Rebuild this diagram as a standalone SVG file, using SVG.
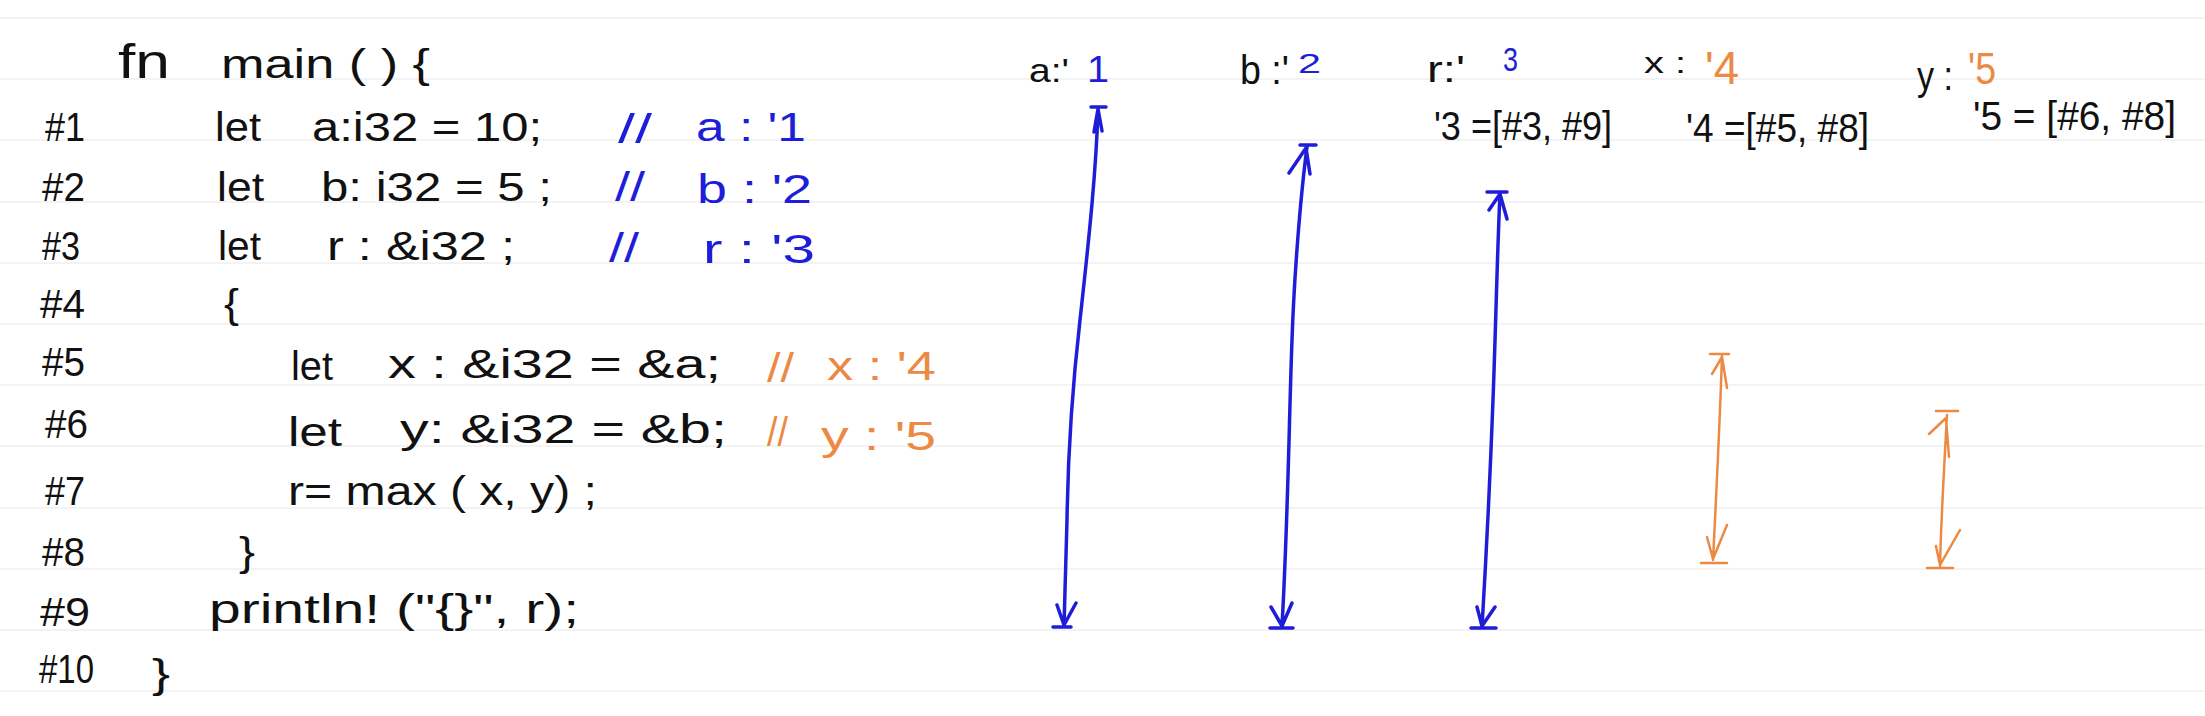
<svg xmlns="http://www.w3.org/2000/svg" width="2205" height="716" viewBox="0 0 2205 716">
<style>
text{font-family:"Liberation Sans","DejaVu Sans",sans-serif;font-size:40px;fill:#111;}
.b{fill:#1e1ed8;}
.o{fill:#ec8a45;}
.rule{stroke:#efefef;stroke-width:1.5;}
.ab{fill:none;stroke:#1e1ed8;stroke-width:3.5;stroke-linecap:round;stroke-linejoin:round;}
.ao{fill:none;stroke:#ec8a45;stroke-width:2.5;stroke-linecap:round;stroke-linejoin:round;}
</style>
<rect width="2205" height="716" fill="#ffffff"/>
<g id="rules">
<line class="rule" x1="0" y1="18" x2="2205" y2="18"/>
<line class="rule" x1="0" y1="79" x2="2205" y2="79"/>
<line class="rule" x1="0" y1="140" x2="2205" y2="140"/>
<line class="rule" x1="0" y1="202" x2="2205" y2="202"/>
<line class="rule" x1="0" y1="263" x2="2205" y2="263"/>
<line class="rule" x1="0" y1="324" x2="2205" y2="324"/>
<line class="rule" x1="0" y1="385" x2="2205" y2="385"/>
<line class="rule" x1="0" y1="446" x2="2205" y2="446"/>
<line class="rule" x1="0" y1="508" x2="2205" y2="508"/>
<line class="rule" x1="0" y1="569" x2="2205" y2="569"/>
<line class="rule" x1="0" y1="630" x2="2205" y2="630"/>
<line class="rule" x1="0" y1="691" x2="2205" y2="691"/>
</g>
<g id="line-fn">
<text x="118" y="78" textLength="52" lengthAdjust="spacingAndGlyphs" style="font-size:48px">fn</text>
<text x="221" y="78" textLength="209" lengthAdjust="spacingAndGlyphs">main ( ) {</text>
</g>
<g id="line-1">
<text x="45" y="141" textLength="40" lengthAdjust="spacingAndGlyphs">#1</text>
<text x="215" y="141" textLength="46" lengthAdjust="spacingAndGlyphs">let</text>
<text x="312" y="141" textLength="230" lengthAdjust="spacingAndGlyphs">a:i32 = 10;</text>
<text class="b" x="618" y="143" textLength="34" lengthAdjust="spacingAndGlyphs">//</text>
<text class="b" x="696" y="141" textLength="110" lengthAdjust="spacingAndGlyphs">a : '1</text>
</g>
<g id="line-2">
<text x="42" y="201" textLength="43" lengthAdjust="spacingAndGlyphs">#2</text>
<text x="217" y="201" textLength="47" lengthAdjust="spacingAndGlyphs">let</text>
<text x="321" y="201" textLength="231" lengthAdjust="spacingAndGlyphs">b: i32 = 5 ;</text>
<text class="b" x="615" y="201" textLength="30" lengthAdjust="spacingAndGlyphs">//</text>
<text class="b" x="697" y="203" textLength="115" lengthAdjust="spacingAndGlyphs">b : '2</text>
</g>
<g id="line-3">
<text x="42" y="260" textLength="38" lengthAdjust="spacingAndGlyphs">#3</text>
<text x="218" y="260" textLength="43" lengthAdjust="spacingAndGlyphs">let</text>
<text x="327" y="260" textLength="188" lengthAdjust="spacingAndGlyphs">r : &amp;i32 ;</text>
<text class="b" x="609" y="262" textLength="30" lengthAdjust="spacingAndGlyphs">//</text>
<text class="b" x="703" y="263" textLength="112" lengthAdjust="spacingAndGlyphs">r : '3</text>
</g>
<g id="line-4">
<text x="40" y="318" textLength="45" lengthAdjust="spacingAndGlyphs">#4</text>
<text x="224" y="318" textLength="15" lengthAdjust="spacingAndGlyphs">{</text>
</g>
<g id="line-5">
<text x="42" y="376" textLength="43" lengthAdjust="spacingAndGlyphs">#5</text>
<text x="291" y="380" textLength="42" lengthAdjust="spacingAndGlyphs">let</text>
<text x="388" y="378" textLength="333" lengthAdjust="spacingAndGlyphs">x : &amp;i32 = &amp;a;</text>
<text class="o" x="767" y="382" textLength="27" lengthAdjust="spacingAndGlyphs">//</text>
<text class="o" x="827" y="380" textLength="109" lengthAdjust="spacingAndGlyphs">x : '4</text>
</g>
<g id="line-6">
<text x="45" y="438" textLength="43" lengthAdjust="spacingAndGlyphs">#6</text>
<text x="288" y="446" textLength="54" lengthAdjust="spacingAndGlyphs">let</text>
<text x="400" y="443" textLength="327" lengthAdjust="spacingAndGlyphs">y: &amp;i32 = &amp;b;</text>
<text class="o" x="767" y="446" textLength="21" lengthAdjust="spacingAndGlyphs">//</text>
<text class="o" x="821" y="450" textLength="115" lengthAdjust="spacingAndGlyphs">y : '5</text>
</g>
<g id="line-7">
<text x="45" y="505" textLength="40" lengthAdjust="spacingAndGlyphs">#7</text>
<text x="288" y="505" textLength="309" lengthAdjust="spacingAndGlyphs">r= max ( x, y) ;</text>
</g>
<g id="line-8">
<text x="42" y="566" textLength="43" lengthAdjust="spacingAndGlyphs">#8</text>
<text x="239" y="566" textLength="16" lengthAdjust="spacingAndGlyphs">}</text>
</g>
<g id="line-9">
<text x="40" y="626" textLength="50" lengthAdjust="spacingAndGlyphs">#9</text>
<text x="209" y="623" textLength="370" lengthAdjust="spacingAndGlyphs">println! ("{}", r);</text>
</g>
<g id="line-10">
<text x="39" y="683" textLength="55" lengthAdjust="spacingAndGlyphs">#10</text>
<text x="152" y="688" textLength="18" lengthAdjust="spacingAndGlyphs">}</text>
</g>
<g id="label-a">
<text x="1029" y="82" textLength="40" lengthAdjust="spacingAndGlyphs" style="font-size:34px">a:'</text>
<text class="b" x="1087" y="82" textLength="22" lengthAdjust="spacingAndGlyphs" style="font-size:36px">1</text>
</g>
<g id="label-b">
<text x="1240" y="84" textLength="49" lengthAdjust="spacingAndGlyphs">b :'</text>
<text class="b" x="1298" y="73" textLength="23" lengthAdjust="spacingAndGlyphs" style="font-size:28px">2</text>
</g>
<g id="label-r">
<text x="1427" y="82" textLength="38" lengthAdjust="spacingAndGlyphs" style="font-size:36px">r:'</text>
<text class="b" x="1503" y="71" textLength="15" lengthAdjust="spacingAndGlyphs" style="font-size:34px">3</text>
<text x="1434" y="140" textLength="178" lengthAdjust="spacingAndGlyphs">'3 =[#3, #9]</text>
</g>
<g id="label-x">
<text x="1644" y="73" textLength="42" lengthAdjust="spacingAndGlyphs" style="font-size:30px">x :</text>
<text class="o" x="1705" y="84" textLength="34" lengthAdjust="spacingAndGlyphs" style="font-size:46px">'4</text>
<text x="1686" y="142" textLength="183" lengthAdjust="spacingAndGlyphs">'4 =[#5, #8]</text>
</g>
<g id="label-y">
<text x="1917" y="90" textLength="36" lengthAdjust="spacingAndGlyphs">y :</text>
<text class="o" x="1968" y="84" textLength="28" lengthAdjust="spacingAndGlyphs" style="font-size:44px">'5</text>
<text x="1973" y="130" textLength="203" lengthAdjust="spacingAndGlyphs">'5 = [#6, #8]</text>
</g>
<g id="connectors">
<path class="ab" d="M1091,107 L1106,107 M1094,132 L1098,109 L1102,131 M1098,110 C1096,170 1090,230 1080,320 C1072,390 1068,450 1067,520 L1064,626 M1053,627 L1071,627 M1057,605 L1064,625 L1076,603"/>
<path class="ab" d="M1300,145 L1316,145 M1289,173 L1306,148 L1310,174 M1307,147 C1300,200 1294,280 1292,340 C1289,420 1288,520 1282,626 M1270,628 L1293,628 M1271,607 L1282,626 L1292,603"/>
<path class="ab" d="M1487,192 L1507,192 M1489,210 L1500,194 L1507,219 M1500,193 C1497,260 1496,320 1493,400 C1490,480 1486,560 1482,627 M1471,628 L1496,628 M1477,607 L1482,626 L1495,607"/>
<path class="ao" d="M1710,354 L1729,354 M1712,374 L1722,357 L1727,388 M1722,356 C1720,420 1716,500 1713,560 M1701,563 L1727,563 M1707,537 L1713,559 L1727,525"/>
<path class="ao" d="M1936,411 L1958,411 M1929,434 L1946,418 L1949,457 M1947,415 C1944,470 1941,520 1940,566 M1927,568 L1953,568 M1936,546 L1940,565 L1960,530"/>
</g>
</svg>
